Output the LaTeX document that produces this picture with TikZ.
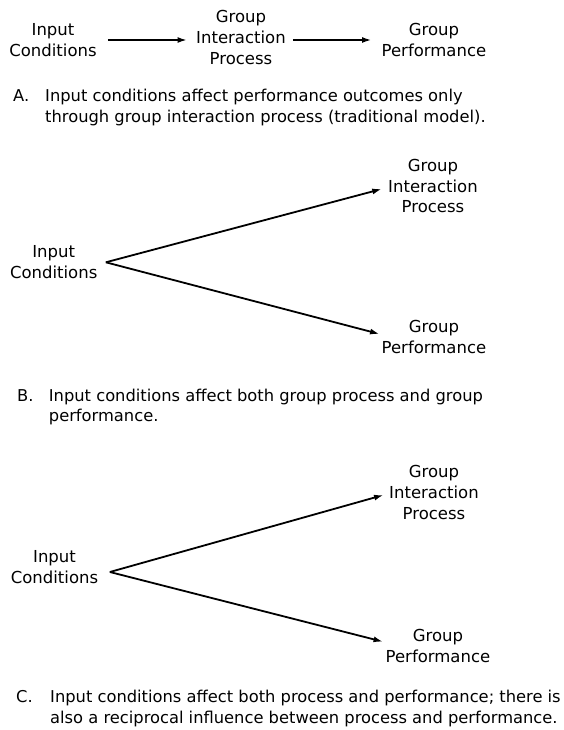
\documentclass[tikz,border=0pt]{standalone}
\usepackage{fontspec}
\setmainfont{DejaVu Sans}
\usetikzlibrary{arrows.meta}
\begin{document}
\begin{tikzpicture}[x=1pt,y=-1pt,
  lbl/.style={align=center, inner sep=0pt, font=\fontsize{16.5}{20.7}\selectfont},
  captxt/.style={align=left, inner sep=0pt, anchor=north west, font=\fontsize{16.3}{20.5}\selectfont},
  capkey/.style={inner sep=0pt, anchor=base west, font=\fontsize{16.3}{20.5}\selectfont},
  arr/.style={-{Latex[length=9.5pt,width=6pt]}, line width=1.8pt}]
\useasboundingbox[fill=white] (0,0) rectangle (564,730);

% A: input -> process -> performance
\node[lbl] (icA) at (53,40) {Input\\Conditions};
\node[lbl] (gipA) at (241,37.3) {Group\\Interaction\\Process};
\node[lbl] (gpA) at (434,40) {Group\\Performance};
\draw[arr] ([xshift=11pt]icA.east) -- ([xshift=-9pt,yshift=-2.7pt]gipA.west);
\draw[arr] ([xshift=7pt,yshift=-2.7pt]gipA.east) -- ([xshift=-10pt]gpA.west);
\node[capkey] (capAl) at (13,101.7) {A.};
\node[captxt] (capA) at (45,89.2) {Input conditions affect performance outcomes only\\through group interaction process (traditional model).};

% B: input feeds both process and performance
\node[lbl] (icB) at (53.7,262.3) {Input\\Conditions};
\coordinate (forkB) at ([xshift=8.3pt]icB.east);
\node[lbl] (gipB) at (433,186) {Group\\Interaction\\Process};
\node[lbl] (gpB) at (434,337) {Group\\Performance};
\draw[arr] (forkB) -- ([xshift=-6.3pt,yshift=-3pt]gipB.west);
\draw[arr] (forkB) -- ([xshift=-2pt,yshift=3pt]gpB.west);
\node[capkey] (capBl) at (17,401) {B.};
\node[captxt] (capB) at (48.7,388.5) {Input conditions affect both group process and group\\performance.};

% C: same fork, reciprocal influence
\node[lbl] (icC) at (54.5,567) {Input\\Conditions};
\coordinate (forkC) at ([xshift=11.5pt,yshift=-5pt]icC.east);
\node[lbl] (gipC) at (434,492.5) {Group\\Interaction\\Process};
\node[lbl] (gpC) at (438,646) {Group\\Performance};
\draw[arr] (forkC) -- ([xshift=-5.5pt,yshift=-2.5pt]gipC.west);
\draw[arr] (forkC) -- ([xshift=-2.5pt,yshift=4.3pt]gpC.west);
\node[capkey] (capCl) at (16,702.5) {C.};
\node[captxt] (capC) at (50,690) {Input conditions affect both process and performance; there is\\also a reciprocal influence between process and performance.};
\end{tikzpicture}
\end{document}
